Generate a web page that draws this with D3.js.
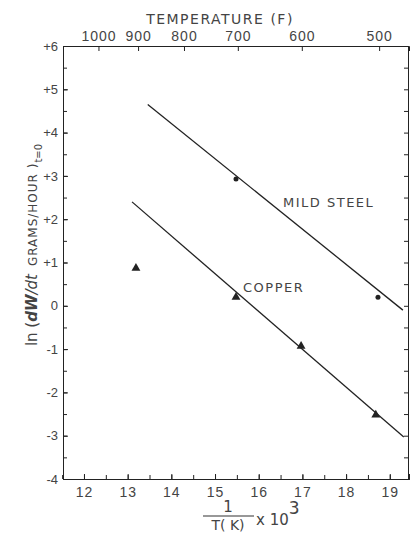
<!DOCTYPE html>
<html>
<head>
<meta charset="utf-8">
<script src="https://cdn.jsdelivr.net/npm/d3@7.9.0/dist/d3.min.js"></script>
<style>
  body { margin: 0; background: #fff; }
</style>
</head>
<body>
<svg id="chart" width="410" height="535" font-family="DejaVu Sans, sans-serif"></svg>
<script>
// values
const xTicks = [12, 13, 14, 15, 16, 17, 18, 19];
const yTicks = [-4, -3, -2, -1, 0, 1, 2, 3, 4, 5, 6];
const tempF = [1000, 900, 800, 700, 600, 500];

const steelPoints = [[15.48, 2.93], [18.73, 0.2]];
const steelLine = [[13.46, 4.65], [19.3, -0.1]];

const copperPoints = [[13.19, 0.87], [15.48, 0.2], [16.97, -0.93], [18.68, -2.52]];
const copperLine = [[13.1, 2.4], [19.32, -3.03]];

const svg = d3.select('#chart');

const xScale = d3.scaleLinear().domain([11.52, 19.44]).range([63, 409]);
const yScale = d3.scaleLinear().domain([-4, 6]).range([479, 46]);

const xHalf = d3.range(11.5, 19.5, 0.5);
const yHalf = d3.range(-4, 6.5, 0.5);
// the bottom scale reads 1/T(K) in units of 1e-4
const tempPos = tempF.map(f => 10000 / ((f - 32) * 5 / 9 + 273.15));

function styleAxis(g, size) {
    g.attr('color', '#222');
    g.selectAll('text').attr('fill', '#444').attr('font-size', size);
}

// minor ticks (every half unit), no labels
svg.append('g')
    .attr('transform', 'translate(0,479)')
    .call(d3.axisBottom(xScale).tickValues(xHalf).tickSize(-4).tickFormat(() => ''))
    .call(styleAxis, 14);

svg.append('g')
    .attr('transform', 'translate(63,0)')
    .call(d3.axisLeft(yScale).tickValues(yHalf).tickSize(-4).tickFormat(() => ''))
    .call(styleAxis, 13);

svg.append('g')
    .attr('transform', 'translate(408,0)')
    .call(d3.axisRight(yScale).tickValues(yHalf).tickSize(-4).tickFormat(() => ''))
    .call(styleAxis, 13);

// labelled axes
svg.append('g')
    .attr('transform', 'translate(0,479)')
    .call(d3.axisBottom(xScale).tickValues(xTicks).tickSize(-5).tickPadding(8))
    .call(styleAxis, 14)
    .selectAll('text').attr('letter-spacing', 1);

svg.append('g')
    .attr('transform', 'translate(63,0)')
    .call(d3.axisLeft(yScale).tickValues(yTicks).tickSize(-5).tickPadding(5)
        .tickFormat(d => d > 0 ? '+' + d : String(d)))
    .call(styleAxis, 13);

svg.append('g')
    .attr('transform', 'translate(0,46)')
    .call(d3.axisTop(xScale).tickValues(tempPos).tickSize(-5).tickPadding(5)
        .tickFormat((d, i) => String(tempF[i])))
    .call(styleAxis, 14)
    .selectAll('text').attr('letter-spacing', 1);

svg.append('text')
    .attr('x', 220)
    .attr('y', 24)
    .attr('text-anchor', 'middle')
    .attr('fill', '#444')
    .attr('letter-spacing', 1.5)
    .attr('font-size', 14)
    .text('TEMPERATURE (F)');

// fitted lines
const lineGen = d3.line().x(d => xScale(d[0])).y(d => yScale(d[1]));

svg.append('path')
    .datum(steelLine)
    .attr('d', lineGen)
    .attr('fill', 'none')
    .attr('stroke', '#222')
    .attr('stroke-width', 1.3);

svg.append('path')
    .datum(copperLine)
    .attr('d', lineGen)
    .attr('fill', 'none')
    .attr('stroke', '#222')
    .attr('stroke-width', 1.3);

svg.selectAll('circle.steel')
    .data(steelPoints)
    .join('circle')
    .attr('class', 'steel')
    .attr('cx', d => xScale(d[0]))
    .attr('cy', d => yScale(d[1]))
    .attr('r', 2.5)
    .attr('fill', '#222');

svg.selectAll('path.copper')
    .data(copperPoints)
    .join('path')
    .attr('class', 'copper')
    .attr('transform', d => `translate(${xScale(d[0])},${yScale(d[1])})`)
    .attr('d', d3.symbol(d3.symbolTriangle, 34))
    .attr('fill', '#222');

svg.append('text')
    .attr('x', 283)
    .attr('y', 207)
    .attr('fill', '#444')
    .attr('letter-spacing', 1.5)
    .attr('font-size', 13)
    .text('MILD STEEL');

svg.append('text')
    .attr('x', 243)
    .attr('y', 292)
    .attr('fill', '#444')
    .attr('letter-spacing', 1.5)
    .attr('font-size', 13)
    .text('COPPER');

// y axis title
const yt = svg.append('text')
    .attr('transform', 'translate(37,245) rotate(-90)')
    .attr('text-anchor', 'middle')
    .attr('fill', '#444')
    .attr('font-size', 15);
yt.append('tspan').text('ln (');
yt.append('tspan').attr('font-style', 'italic').attr('font-weight', 'bold').text('dW');
yt.append('tspan').attr('font-style', 'italic').text('/dt');
yt.append('tspan').attr('font-size', 12).attr('dx', 8).attr('letter-spacing', 1).text('GRAMS/HOUR )');
yt.append('tspan').attr('font-size', 10).attr('dy', 5).text('t=0');

// x axis title
svg.append('text')
    .attr('x', 228)
    .attr('y', 512)
    .attr('text-anchor', 'middle')
    .attr('fill', '#444')
    .attr('font-size', 15)
    .text('1');

svg.append('line')
    .attr('x1', 203)
    .attr('x2', 254)
    .attr('y1', 516)
    .attr('y2', 516)
    .attr('stroke', '#333')
    .attr('stroke-width', 1.2);

svg.append('text')
    .attr('x', 228)
    .attr('y', 530)
    .attr('text-anchor', 'middle')
    .attr('fill', '#444')
    .attr('font-size', 14)
    .text('T( K)');

const xt = svg.append('text')
    .attr('x', 256)
    .attr('y', 525)
    .attr('fill', '#444')
    .attr('font-size', 15);
xt.append('tspan').text('x 10');
xt.append('tspan').attr('dy', -11).attr('font-size', 17).text('3');
</script>
</body>
</html>
